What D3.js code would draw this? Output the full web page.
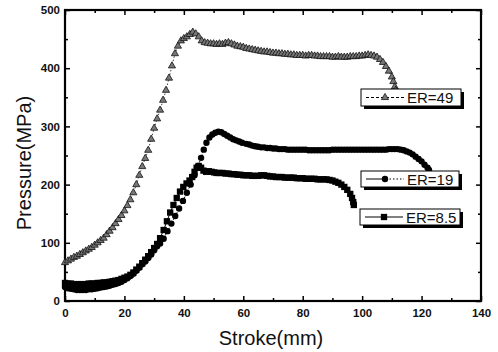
<!DOCTYPE html>
<html>
<head>
<meta charset="utf-8">
<script src="https://cdn.jsdelivr.net/npm/d3@7"></script>
<style>
  body { margin: 0; background: #fff; }
  svg text { font-family: "Liberation Sans", Arial, sans-serif; }
</style>
</head>
<body>
<div id="chart"></div>
<script>
// datos (Stroke mm, Pressure MPa)
const xTicks = [0, 20, 40, 60, 80, 100, 120, 140]
const xMinor = [10, 30, 50, 70, 90, 110, 130]
const yTicks = [0, 100, 200, 300, 400, 500]
const yMinor = [50, 150, 250, 350, 450]
const labels = ["ER=49", "ER=19", "ER=8.5"]

const er49 = [[0,66],[1,69],[2,72],[3,75],[4,77],[5,80],[6,83],[7,86],[8,89],[9,92],[10,96],[11,100],[12,104],[13,108],[14,114],[15,120],[16,126],[17,133],[18,140],[19,147],[20,155],[21,164],[22,174],[23,186],[24,200],[25,216],[26,231],[27,245],[28,259],[29,278],[30,297],[31,313],[32,328],[33,345],[34,362],[35,383],[36,404],[37,425],[38,438],[39,447],[40,451],[41,454],[42,458],[43,462],[44,459],[45,454],[46,447],[47,444],[48,443],[49,442],[50,442],[51,441],[52,442],[53,441],[54,443],[55,444],[56,442],[57,440],[58,438],[59,437],[60,436],[61,434],[62,433],[63,432],[64,431],[65,430],[66,429],[67,428],[68,428],[69,427],[70,426],[71,426],[72,425],[73,425],[74,424],[75,424],[76,423],[77,423],[78,422],[79,422],[80,422],[81,421],[82,422],[83,422],[84,421],[85,421],[86,420],[87,420],[88,420],[89,420],[90,419],[91,419],[92,420],[93,419],[94,419],[95,419],[96,420],[97,420],[98,420],[99,421],[100,421],[101,422],[102,423],[103,422],[104,421],[105,419],[106,415],[107,410],[108,403],[109,395],[110,385],[110.5,377],[111,368],[111.3,362]]

const er19 = [[0,24],[1,22],[2,21],[3,20],[4,19],[5,19],[6,19],[7,19],[8,20],[9,20],[10,21],[11,22],[12,23],[13,24],[14,25],[15,26],[16,28],[17,29],[18,31],[19,33],[20,36],[21,39],[22,43],[23,47],[24,52],[25,57],[26,63],[27,68],[28,74],[29,80],[30,87],[31,94],[32,99],[33.2,107],[34.5,120],[35.8,133],[37.1,146],[38.4,159],[39.7,172],[41,186],[42.3,200],[43.6,216],[44.8,232],[45.8,246],[46.7,260],[47.6,272],[48.6,281],[49.6,286],[50.6,289],[51.6,291],[52.6,290],[53.6,287],[54.6,284],[55.6,281],[56.6,278],[57.6,276],[58.6,274],[59.6,272],[61,270],[62,269],[63,267],[64,266],[65,265],[66,264],[67,264],[68,263],[69,263],[70,262],[71,262],[72,261],[73,261],[74,261],[75,260],[76,260],[77,260],[78,260],[79,260],[80,260],[81,260],[82,259],[83,259],[84,259],[85,259],[86,259],[87,259],[88,259],[89,259],[90,260],[91,260],[92,260],[93,260],[94,260],[95,260],[96,260],[97,260],[98,260],[99,260],[100,260],[101,260],[102,260],[103,260],[104,260],[105,260],[106,260],[107,260],[108,260],[109,261],[110,261],[111,261],[112,261],[113,260],[114,259],[115,257],[116,255],[117,252],[118,248],[119,244],[120,240],[121,234],[122,229],[122.5,225]]

const er85 = [[0,31],[1,30],[2,30],[3,29],[4,29],[5,29],[6,29],[7,29],[8,30],[9,30],[10,30],[11,31],[12,31],[13,32],[14,32],[15,33],[16,34],[17,35],[18,36],[19,38],[20,40],[21,42],[22,45],[23,49],[24,54],[25,59],[26,65],[27,71],[28,77],[29,84],[30,91],[31,98],[32,108],[33.2,122],[34.3,137],[35.4,152],[36.5,165],[37.6,177],[38.7,188],[39.8,196],[40.9,202],[41.9,207],[42.8,213],[43.6,222],[44.3,229],[45,232],[45.8,229],[46.6,224],[47.5,222],[48.4,223],[49.3,222],[50.2,221],[51,220],[52,220],[53,220],[54,219],[55,219],[56,218],[57,218],[58,217],[59,217],[60,216],[61,216],[62,216],[63,215],[64,215],[65,215],[66,216],[67,216],[68,215],[69,214],[70,214],[71,213],[72,213],[73,213],[74,212],[75,212],[76,212],[77,212],[78,211],[79,211],[80,211],[81,210],[82,210],[83,210],[84,210],[85,209],[86,209],[87,209],[88,209],[89,208],[90,207],[91,205],[92,203],[93,200],[94,196],[95,191],[96,184],[96.6,177],[97,170],[97.2,165]]

const ancho = 498
const alto = 352

const svg = d3.select("#chart")
  .append("svg")
  .attr("width", ancho)
  .attr("height", alto)

const x = d3.scaleLinear().domain([0, 140]).range([65, 481])
const y = d3.scaleLinear().domain([0, 500]).range([301, 10])

// ejes con marcas hacia adentro
const ejes = svg.append("g").attr("class", "ejes")

const estiloEje = g => {
  g.select(".domain").remove()
  g.selectAll("line").attr("stroke", "#000").attr("stroke-width", 1.5)
  g.selectAll("text")
    .attr("font-size", 11.5)
    .attr("font-weight", "bold")
    .attr("fill", "#111")
}

ejes.append("g")
  .attr("transform", "translate(0,301)")
  .call(d3.axisBottom(x).tickValues(xTicks).tickSize(-5).tickPadding(8).tickFormat(d3.format("d")))
  .call(estiloEje)
ejes.append("g")
  .attr("transform", "translate(0,301)")
  .call(d3.axisBottom(x).tickValues(xMinor).tickSize(-3).tickFormat(""))
  .call(estiloEje)
ejes.append("g")
  .attr("transform", "translate(0,10)")
  .call(d3.axisTop(x).tickValues(xTicks).tickSize(-5).tickFormat(""))
  .call(estiloEje)
ejes.append("g")
  .attr("transform", "translate(0,10)")
  .call(d3.axisTop(x).tickValues(xMinor).tickSize(-3).tickFormat(""))
  .call(estiloEje)

ejes.append("g")
  .attr("transform", "translate(65,0)")
  .call(d3.axisLeft(y).tickValues(yTicks).tickSize(-5).tickPadding(5).tickFormat(d3.format("d")))
  .call(estiloEje)
ejes.append("g")
  .attr("transform", "translate(65,0)")
  .call(d3.axisLeft(y).tickValues(yMinor).tickSize(-3).tickFormat(""))
  .call(estiloEje)
ejes.append("g")
  .attr("transform", "translate(481,0)")
  .call(d3.axisRight(y).tickValues(yTicks).tickSize(-5).tickFormat(""))
  .call(estiloEje)
ejes.append("g")
  .attr("transform", "translate(481,0)")
  .call(d3.axisRight(y).tickValues(yMinor).tickSize(-3).tickFormat(""))
  .call(estiloEje)

// marco
svg.append("rect")
  .attr("x", x(0))
  .attr("y", y(500))
  .attr("width", x(140) - x(0))
  .attr("height", y(0) - y(500))
  .attr("fill", "none")
  .attr("stroke", "#000")
  .attr("stroke-width", 2.2)

// titulos
svg.append("text")
  .attr("x", 271)
  .attr("y", 345)
  .attr("text-anchor", "middle")
  .attr("font-size", 20)
  .attr("fill", "#111")
  .text("Stroke(mm)")

svg.append("text")
  .attr("transform", "translate(31,163) rotate(-90)")
  .attr("text-anchor", "middle")
  .attr("font-size", 20)
  .attr("fill", "#111")
  .text("Pressure(MPa)")

const linea = d3.line().x(d => x(d[0])).y(d => y(d[1]))
const gSeries = svg.append("g")

const tri = d3.symbol().type(d3.symbolTriangle).size(22)
const circ = d3.symbol().type(d3.symbolCircle).size(32)
const cuad = d3.symbol().type(d3.symbolSquare).size(40)

// ER=49
gSeries.append("path")
  .attr("d", linea(er49))
  .attr("fill", "none")
  .attr("stroke", "#222")
  .attr("stroke-width", 0.9)
  .attr("stroke-dasharray", "1.5,2")
gSeries.append("g").selectAll("path")
  .data(er49)
  .enter().append("path")
  .attr("transform", d => "translate(" + x(d[0]) + "," + y(d[1]) + ")")
  .attr("d", tri)
  .attr("fill", "#777")
  .attr("stroke", "#111")
  .attr("stroke-width", 0.8)

// ER=8.5
gSeries.append("path")
  .attr("d", linea(er85))
  .attr("fill", "none")
  .attr("stroke", "#000")
  .attr("stroke-width", 1)
gSeries.append("g").selectAll("path")
  .data(er85)
  .enter().append("path")
  .attr("transform", d => "translate(" + x(d[0]) + "," + y(d[1]) + ")")
  .attr("d", cuad)
  .attr("fill", "#000")

// ER=19
gSeries.append("path")
  .attr("d", linea(er19))
  .attr("fill", "none")
  .attr("stroke", "#000")
  .attr("stroke-width", 1)
  .attr("stroke-dasharray", "1.5,2")
gSeries.append("g").selectAll("path")
  .data(er19)
  .enter().append("path")
  .attr("transform", d => "translate(" + x(d[0]) + "," + y(d[1]) + ")")
  .attr("d", circ)
  .attr("fill", "#000")

// leyendas con sombra
const cajas = [
  { x0: 361, y0: 89, w: 100, h: 17, simbolo: tri, fill: "#777", dash: ["3,2", "3,2"] },
  { x0: 361, y0: 171, w: 98, h: 16, simbolo: circ, fill: "#000", dash: [null, "1.5,2"] },
  { x0: 360, y0: 209, w: 100, h: 16, simbolo: cuad, fill: "#000", dash: [null, null] }
]

cajas.forEach((c, i) => {
  const g = svg.append("g").attr("class", "leyenda")
  g.append("rect")
    .attr("x", c.x0 + 3).attr("y", c.y0 + 3)
    .attr("width", c.w).attr("height", c.h)
    .attr("fill", "#000")
  g.append("rect")
    .attr("x", c.x0).attr("y", c.y0)
    .attr("width", c.w).attr("height", c.h)
    .attr("fill", "#fff")
    .attr("stroke", "#000")
    .attr("stroke-width", 1)
  const ym = c.y0 + c.h / 2
  g.append("line")
    .attr("x1", c.x0 + 5).attr("x2", c.x0 + 23)
    .attr("y1", ym).attr("y2", ym)
    .attr("stroke", "#000").attr("stroke-width", 1)
    .attr("stroke-dasharray", c.dash[0])
  g.append("line")
    .attr("x1", c.x0 + 25).attr("x2", c.x0 + 43)
    .attr("y1", ym).attr("y2", ym)
    .attr("stroke", "#000").attr("stroke-width", 1)
    .attr("stroke-dasharray", c.dash[1])
  g.append("path")
    .attr("transform", "translate(" + (c.x0 + 24) + "," + ym + ")")
    .attr("d", c.simbolo)
    .attr("fill", c.fill)
    .attr("stroke", i === 0 ? "#111" : "none")
    .attr("stroke-width", 0.8)
  g.append("text")
    .attr("x", c.x0 + 46)
    .attr("y", ym + 5.5)
    .attr("font-size", 15)
    .attr("fill", "#111")
    .text(labels[i])
})
</script>
</body>
</html>
